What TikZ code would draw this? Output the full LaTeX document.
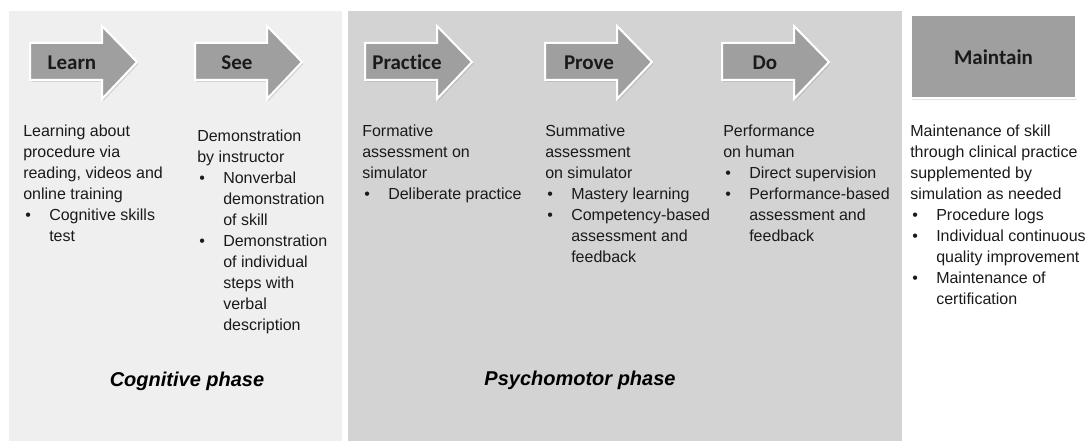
\documentclass[tikz,border=0pt]{standalone}
\usepackage{fontspec}
\setmainfont{Liberation Sans}
\newfontfamily\stagefont[Ligatures=NoCommon]{Carlito}
\usetikzlibrary{shadows}

\definecolor{cogfill}{HTML}{EFEFEF}
\definecolor{psyfill}{HTML}{D3D3D3}
\definecolor{stagegray}{HTML}{9F9F9F}
\definecolor{inkgray}{HTML}{1A1A1A}

\newcommand{\bul}{\makebox[19.5pt][l]{\hspace{1.5pt}\textbullet}}
\newcommand{\ind}{\hspace*{19.5pt}}

\tikzset{
  stagearrow/.style={fill=stagegray,draw=white,line width=1.5pt,
    drop shadow={shadow xshift=1pt,shadow yshift=-1.5pt,opacity=0.25}},
  stagelabel/.style={font=\stagefont\bfseries\fontsize{15.75}{18}\selectfont,
    text=inkgray,inner sep=0pt,text height=11pt,text depth=0pt},
  maintainbox/.style={stagearrow,minimum width=123.75pt,minimum height=62.25pt,
    font=\stagefont\bfseries\fontsize{15.75}{18}\selectfont,text=inkgray},
  desc/.style={anchor=north west,align=left,inner sep=0pt,
    font=\fontsize{12}{15.75}\selectfont,text=inkgray},
  phase/.style={font=\bfseries\itshape\fontsize{15}{18}\selectfont,text=black}
}

\begin{document}
\begin{tikzpicture}[x=0.75pt,y=-0.75pt]
  \useasboundingbox (0,0) rectangle (1089,441);
  % phase panels
  \fill[cogfill] (9,11) rectangle (342,441);
  \fill[psyfill] (348,11) rectangle (902,441);

  % stage arrows
  \draw[stagearrow,shift={(30,0)}] (0,43) -- (72,43) -- (72,26) -- (107,62) -- (72,99) -- (72,80) -- (0,80) -- cycle;
  \node[stagelabel] (learn) at (72,62) {Learn};
  \draw[stagearrow,shift={(195,0)}] (0,43) -- (72,43) -- (72,26) -- (107,62) -- (72,99) -- (72,80) -- (0,80) -- cycle;
  \node[stagelabel] (see) at (237,62) {See};
  \draw[stagearrow,shift={(365,0)}] (0,43) -- (72,43) -- (72,26) -- (107,62) -- (72,99) -- (72,80) -- (0,80) -- cycle;
  \node[stagelabel] (practice) at (407,62) {Practice};
  \draw[stagearrow,shift={(545,0)}] (0,43) -- (72,43) -- (72,26) -- (107,62) -- (72,99) -- (72,80) -- (0,80) -- cycle;
  \node[stagelabel] (prove) at (589,62) {Prove};
  \draw[stagearrow,shift={(722,0)}] (0,43) -- (72,43) -- (72,26) -- (107,62) -- (72,99) -- (72,80) -- (0,80) -- cycle;
  \node[stagelabel] (do) at (765,62) {Do};
  \node[maintainbox] (maintain) at (993.5,57) {Maintain};

  % descriptions
  \node[desc] (learntext) at (23,125) {Learning about\\procedure via\\reading, videos and\\online training\\
    \bul Cognitive skills\\\ind test};
  \node[desc] (seetext) at (197,130) {Demonstration\\by instructor\\
    \bul Nonverbal\\\ind demonstration\\\ind of skill\\
    \bul Demonstration\\\ind of individual\\\ind steps with\\\ind verbal\\\ind description};
  \node[desc] (practicetext) at (362,125) {Formative\\assessment on\\simulator\\
    \bul Deliberate practice};
  \node[desc] (provetext) at (545,125) {Summative\\assessment\\on simulator\\
    \bul Mastery learning\\\bul Competency-based\\\ind assessment and\\\ind feedback};
  \node[desc] (dotext) at (723,125) {Performance\\on human\\
    \bul Direct supervision\\\bul Performance-based\\\ind assessment and\\\ind feedback};
  \node[desc] (maintaintext) at (910,125) {Maintenance of skill\\through clinical practice\\supplemented by\\simulation as needed\\
    \bul Procedure logs\\\bul Individual continuous\\\ind quality improvement\\
    \bul Maintenance of\\\ind certification};

  % phase titles
  \node[phase] (cognitive) at (187,381) {Cognitive phase};
  \node[phase] (psychomotor) at (580,380) {Psychomotor phase};
\end{tikzpicture}
\end{document}
